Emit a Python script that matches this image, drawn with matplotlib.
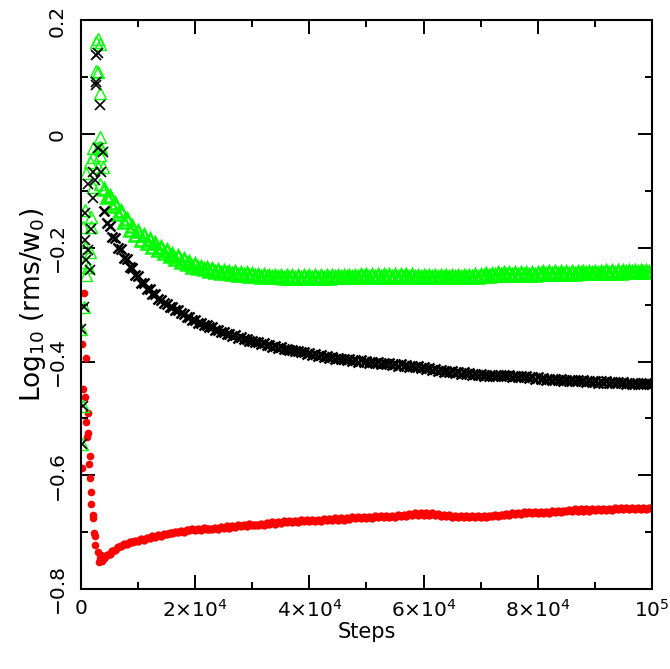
import numpy as np
import matplotlib
matplotlib.use("Agg")
import matplotlib.pyplot as plt
from matplotlib.ticker import MultipleLocator, FixedLocator

plt.rcParams["font.family"] = "DejaVu Sans"
plt.rcParams["mathtext.fontset"] = "dejavusans"

# sampled every 500 steps from 4000 to 100000 (one row = 5000 steps)
band_start, band_stop, band_step = 4000, 100000, 500

red_band = [
    -0.745, -0.740, -0.739, -0.733, -0.731, -0.727, -0.725, -0.721, -0.721, -0.718,
    -0.718, -0.715, -0.715, -0.712, -0.713, -0.710, -0.711, -0.707, -0.709, -0.705,
    -0.706, -0.703, -0.704, -0.701, -0.702, -0.699, -0.700, -0.698, -0.699, -0.696,
    -0.697, -0.695, -0.697, -0.694, -0.696, -0.693, -0.695, -0.694, -0.695, -0.692,
    -0.694, -0.691, -0.693, -0.690, -0.692, -0.689, -0.691, -0.688, -0.690, -0.687,
    -0.689, -0.686, -0.688, -0.687, -0.688, -0.685, -0.687, -0.684, -0.686, -0.683,
    -0.685, -0.682, -0.684, -0.681, -0.683, -0.680, -0.682, -0.680, -0.682, -0.679,
    -0.681, -0.679, -0.681, -0.678, -0.680, -0.678, -0.680, -0.677, -0.679, -0.677,
    -0.679, -0.676, -0.678, -0.676, -0.678, -0.675, -0.677, -0.674, -0.676, -0.674,
    -0.676, -0.673, -0.675, -0.673, -0.675, -0.672, -0.674, -0.672, -0.674, -0.671,
    -0.673, -0.671, -0.673, -0.670, -0.672, -0.669, -0.671, -0.668, -0.670, -0.667,
    -0.669, -0.667, -0.669, -0.666, -0.669, -0.667, -0.670, -0.668, -0.671, -0.669,
    -0.672, -0.670, -0.673, -0.671, -0.673, -0.671, -0.673, -0.672, -0.674, -0.672,
    -0.674, -0.672, -0.674, -0.672, -0.673, -0.671, -0.672, -0.670, -0.671, -0.669,
    -0.670, -0.668, -0.669, -0.667, -0.668, -0.666, -0.668, -0.665, -0.667, -0.665,
    -0.667, -0.664, -0.666, -0.664, -0.666, -0.664, -0.666, -0.663, -0.665, -0.662,
    -0.664, -0.662, -0.663, -0.661, -0.663, -0.660, -0.662, -0.660, -0.662, -0.660,
    -0.662, -0.659, -0.661, -0.659, -0.661, -0.659, -0.661, -0.659, -0.661, -0.658,
    -0.660, -0.658, -0.660, -0.658, -0.660, -0.658, -0.660, -0.657, -0.659, -0.657,
    -0.659, -0.657, -0.658,
]

black_band = [
    -0.136, -0.156, -0.161, -0.181, -0.183, -0.200, -0.202, -0.218, -0.219, -0.234,
    -0.235, -0.248, -0.249, -0.261, -0.261, -0.272, -0.272, -0.281, -0.282, -0.290,
    -0.291, -0.297, -0.298, -0.304, -0.304, -0.310, -0.310, -0.315, -0.316, -0.321,
    -0.321, -0.326, -0.327, -0.332, -0.332, -0.336, -0.336, -0.340, -0.340, -0.344,
    -0.344, -0.348, -0.348, -0.352, -0.351, -0.355, -0.354, -0.358, -0.357, -0.361,
    -0.360, -0.364, -0.363, -0.366, -0.365, -0.369, -0.368, -0.371, -0.370, -0.374,
    -0.373, -0.376, -0.375, -0.378, -0.377, -0.380, -0.379, -0.382, -0.381, -0.384,
    -0.383, -0.386, -0.385, -0.388, -0.387, -0.390, -0.389, -0.392, -0.390, -0.393,
    -0.392, -0.395, -0.393, -0.396, -0.395, -0.398, -0.396, -0.399, -0.397, -0.400,
    -0.398, -0.401, -0.399, -0.402, -0.400, -0.403, -0.401, -0.404, -0.402, -0.405,
    -0.403, -0.406, -0.404, -0.407, -0.405, -0.408, -0.406, -0.409, -0.407, -0.410,
    -0.408, -0.411, -0.410, -0.413, -0.412, -0.415, -0.413, -0.416, -0.415, -0.418,
    -0.416, -0.419, -0.417, -0.420, -0.418, -0.421, -0.419, -0.422, -0.420, -0.423,
    -0.421, -0.424, -0.422, -0.425, -0.423, -0.425, -0.423, -0.426, -0.424, -0.426,
    -0.424, -0.426, -0.424, -0.427, -0.425, -0.427, -0.425, -0.428, -0.426, -0.429,
    -0.427, -0.430, -0.428, -0.431, -0.429, -0.432, -0.430, -0.433, -0.431, -0.433,
    -0.431, -0.434, -0.432, -0.434, -0.432, -0.435, -0.433, -0.435, -0.433, -0.436,
    -0.434, -0.436, -0.434, -0.437, -0.435, -0.437, -0.435, -0.438, -0.436, -0.438,
    -0.436, -0.438, -0.436, -0.439, -0.437, -0.439, -0.437, -0.439, -0.437, -0.440,
    -0.438, -0.440, -0.439,
]

green_band = [
    -0.096, -0.110, -0.108, -0.126, -0.121, -0.141, -0.136, -0.155, -0.150, -0.168,
    -0.161, -0.178, -0.170, -0.186, -0.178, -0.192, -0.185, -0.198, -0.191, -0.203,
    -0.198, -0.209, -0.204, -0.214, -0.210, -0.220, -0.215, -0.225, -0.220, -0.229,
    -0.225, -0.233, -0.229, -0.236, -0.233, -0.238, -0.235, -0.240, -0.237, -0.242,
    -0.239, -0.244, -0.241, -0.245, -0.242, -0.246, -0.243, -0.247, -0.244, -0.248,
    -0.245, -0.249, -0.246, -0.250, -0.247, -0.251, -0.248, -0.251, -0.249, -0.252,
    -0.249, -0.252, -0.250, -0.253, -0.250, -0.253, -0.250, -0.253, -0.250, -0.253,
    -0.250, -0.253, -0.250, -0.253, -0.250, -0.253, -0.250, -0.253, -0.250, -0.253,
    -0.250, -0.252, -0.249, -0.252, -0.249, -0.252, -0.249, -0.252, -0.249, -0.251,
    -0.248, -0.251, -0.248, -0.251, -0.248, -0.251, -0.248, -0.251, -0.248, -0.251,
    -0.248, -0.251, -0.248, -0.251, -0.248, -0.251, -0.248, -0.251, -0.248, -0.251,
    -0.249, -0.252, -0.249, -0.252, -0.249, -0.252, -0.249, -0.252, -0.249, -0.252,
    -0.249, -0.252, -0.249, -0.252, -0.249, -0.252, -0.249, -0.252, -0.249, -0.251,
    -0.248, -0.251, -0.247, -0.250, -0.246, -0.249, -0.246, -0.248, -0.245, -0.248,
    -0.245, -0.247, -0.244, -0.247, -0.244, -0.247, -0.244, -0.247, -0.244, -0.247,
    -0.244, -0.247, -0.244, -0.246, -0.243, -0.246, -0.243, -0.246, -0.243, -0.246,
    -0.243, -0.246, -0.243, -0.246, -0.243, -0.246, -0.243, -0.245, -0.242, -0.245,
    -0.242, -0.245, -0.242, -0.245, -0.242, -0.244, -0.241, -0.244, -0.241, -0.244,
    -0.241, -0.244, -0.241, -0.243, -0.240, -0.243, -0.240, -0.243, -0.240, -0.243,
    -0.240, -0.243, -0.241,
]

# scattered early samples (steps, value)
red_early_steps = [470, 100, 820, 300, 750, 1220, 930, 1220, 1100, 1520, 1400, 175,
                   1520, 1800, 1800, 2100, 2100, 2280, 2500, 2400, 2980, 3330, 3150,
                   3680, 3500]
red_early_vals = [-0.279, -0.369, -0.394, -0.448, -0.462, -0.490, -0.506, -0.526,
                  -0.532, -0.566, -0.580, -0.588, -0.605, -0.630, -0.650, -0.670,
                  -0.675, -0.701, -0.706, -0.722, -0.735, -0.745, -0.752, -0.750,
                  -0.740]

green_early_steps = [100, 300, 50, 450, 900, 1220, 650, 1500, 650, 350, 1800, 1800,
                     650, 2100, 3270, 4100, 930, 2980, 3850, 1520, 2100, 3270, 2100,
                     3270, 2980, 3550, 3270, 3270, 2680, 2980, 2680, 2980, 3270]
green_early_vals = [-0.545, -0.478, -0.343, -0.304, -0.248, -0.233, -0.224, -0.207,
                    -0.198, -0.163, -0.163, -0.145, -0.134, -0.093, -0.087, -0.095,
                    -0.069, -0.057, -0.057, -0.049, -0.040, -0.037, -0.025, -0.022,
                    -0.025, -0.025, -0.005, 0.072, 0.112, 0.110, 0.162, 0.168, 0.159]

black_early_steps = [100, 300, 50, 450, 1520, 930, 1220, 650, 1800, 650, 2100, 1220,
                     2400, 2100, 3550, 2980, 3850, 3270, 2680, 2680, 2980, 2680]
black_early_vals = [-0.545, -0.478, -0.343, -0.304, -0.239, -0.221, -0.204, -0.186,
                    -0.166, -0.139, -0.113, -0.087, -0.081, -0.066, -0.066, -0.025,
                    -0.031, 0.051, 0.092, 0.086, 0.142, 0.139]

band_steps = np.arange(band_start, band_stop + 1, band_step)

fig = plt.figure(figsize=(6.70, 6.69), dpi=100)
ax = fig.add_axes([0.1209, 0.1196, 0.8522, 0.8498])

# dense runs: heavy outlines so the overlapping markers merge into a band
ax.plot(band_steps, red_band, "o", color="#ff0000", ms=6, mew=0, ls="none")
ax.plot(band_steps, green_band, "^", color="#00ff00", mfc="none", ms=8, mew=1.8, ls="none")
ax.plot(band_steps, black_band, "x", color="black", ms=7, mew=1.8, ls="none")

# isolated early points keep thin outlines
ax.plot(red_early_steps, red_early_vals, "o", color="#ff0000", ms=5.5, mew=0, ls="none")
ax.plot(green_early_steps, green_early_vals, "^", color="#00ff00", mfc="none", ms=8,
        mew=1.0, ls="none")
ax.plot(black_early_steps, black_early_vals, "x", color="black", ms=6.5, mew=1.2,
        ls="none")

ax.set_xlim(0, 1e5)
ax.set_ylim(-0.8, 0.2)

xt = [0, 2e4, 4e4, 6e4, 8e4, 1e5]
xt_labels = [r"$0$", r"$2{\times}10^4$", r"$4{\times}10^4$", r"$6{\times}10^4$",
             r"$8{\times}10^4$", r"$10^5$"]
yt = [-0.8, -0.6, -0.4, -0.2, 0.0, 0.2]
yt_labels = ["\u22120.8", "\u22120.6", "\u22120.4", "\u22120.2", "0", "0.2"]

ax.xaxis.set_major_locator(FixedLocator(xt))
ax.xaxis.set_minor_locator(MultipleLocator(1e4))
ax.yaxis.set_major_locator(FixedLocator(yt))
ax.yaxis.set_minor_locator(MultipleLocator(0.1))
ax.set_xticklabels(xt_labels)
ax.set_yticklabels(yt_labels)

ax.tick_params(which="both", direction="in", top=True, right=True, width=1.4,
               labelsize=14.5, color="black")
ax.tick_params(which="major", length=10)
ax.tick_params(which="minor", length=5)
ax.tick_params(axis="x", pad=7)
ax.tick_params(axis="y", pad=10)
for lbl in ax.get_yticklabels():
    lbl.set_rotation(90)
    lbl.set_va("center")

for sp in ax.spines.values():
    sp.set_linewidth(1.5)

ax.set_xlabel("Steps", fontsize=15, labelpad=1)
ax.set_ylabel(r"Log$_{10}$ (rms/w$_0$)", fontsize=19, labelpad=0)

fig.savefig("out.png", dpi=100)
